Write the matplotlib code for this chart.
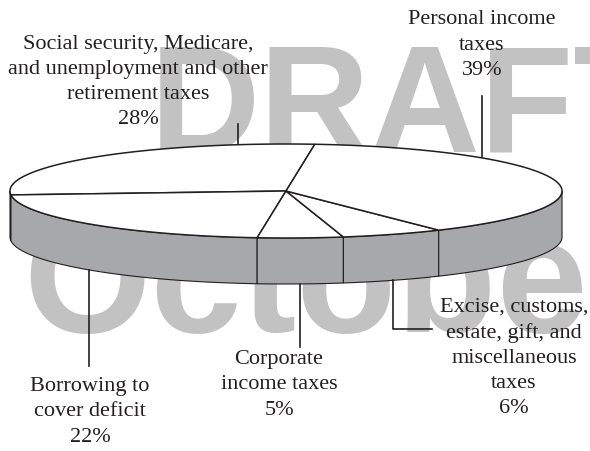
import numpy as np
import matplotlib
matplotlib.use("Agg")
import matplotlib.pyplot as plt
from matplotlib.patches import Polygon

# ---- data (counter-clockwise from the back of the pie) ----
categories = ["Social security, Medicare,\nand unemployment and other\nretirement taxes",
              "Borrowing to\ncover deficit",
              "Corporate\nincome taxes",
              "Excise, customs,\nestate, gift, and\nmiscellaneous\ntaxes",
              "Personal income\ntaxes"]
shares = [28, 22, 5, 6, 39]

# ---- layout ----
W, H = 590, 452
cx, cy, rx, ry, depth = 286.0, 192.0, 276.0, 47.0, 46.0
start_angle = 84.0
LINE = "#231f20"
SIDE = "#a7a8ab"
WM = "#c2c2c2"

fig = plt.figure(figsize=(W / 100, H / 100), dpi=100)
ax = fig.add_axes([0, 0, 1, 1])
ax.set_xlim(0, W)
ax.set_ylim(H, 0)
ax.axis("off")

# watermark
ax.text(150, 152, "DRAFT", fontfamily="Liberation Sans", fontweight="bold",
        fontsize=110, color=WM, ha="left", va="baseline", zorder=0)
ax.text(23, 332, "October", fontfamily="Liberation Sans", fontweight="bold",
        fontsize=118, color=WM, ha="left", va="baseline", zorder=0)


def pt(t_deg, drop=0.0):
    t = np.radians(t_deg)
    return cx + rx * np.cos(t), cy - ry * np.sin(t) + drop


spans = np.array(shares, dtype=float) / sum(shares) * 360.0
bounds = start_angle + np.concatenate([[0], np.cumsum(spans)])

# side walls (front half only)
for a0, a1 in zip(bounds[:-1], bounds[1:]):
    for off in (0.0, 360.0):
        lo, hi = max(a0, 180 + off), min(a1, 360 + off)
        if hi <= lo:
            continue
        ts = np.linspace(lo, hi, 120)
        top = np.array([pt(t) for t in ts])
        bot = np.array([pt(t, depth) for t in ts])[::-1]
        ax.add_patch(Polygon(np.vstack([top, bot]), closed=True, facecolor=SIDE,
                             edgecolor=LINE, lw=0.8, zorder=2))

# top face wedges
for a0, a1 in zip(bounds[:-1], bounds[1:]):
    ts = np.linspace(a0, a1, 300)
    arc = np.array([pt(t) for t in ts])
    poly = np.vstack([[cx, cy], arc])
    ax.add_patch(Polygon(poly, closed=True, facecolor="white", edgecolor=LINE,
                         lw=1.1, joinstyle="miter", zorder=3))

mids = (bounds[:-1] + bounds[1:]) / 2.0

# leader lines
lw_lead = 1.2
# social security (back, top edge)
x_ss = 238.0
y_ss = cy - ry * np.sqrt(1 - ((x_ss - cx) / rx) ** 2)
ax.plot([x_ss, x_ss], [125, y_ss], color=LINE, lw=lw_lead, zorder=2.5)
# personal income (back, top edge)
x_pi = 482.0
y_pi = cy - ry * np.sqrt(1 - ((x_pi - cx) / rx) ** 2)
ax.plot([x_pi, x_pi], [97, y_pi], color=LINE, lw=lw_lead, zorder=2.5)
# borrowing
bx, by = pt(mids[1], depth)
ax.plot([bx, bx], [by, 367], color=LINE, lw=lw_lead, zorder=4)
# corporate
kx, ky = pt(mids[2], depth)
ax.plot([kx, kx], [ky, 348], color=LINE, lw=lw_lead, zorder=4)
# excise
ex, ey = pt(mids[3], depth)
ax.plot([ex, ex, 432], [ey, 330, 330], color=LINE, lw=lw_lead, zorder=4)

# labels
label_pos = [(138, 82), (90, 412), (279, 385), (514, 358), (482, 45)]
for cat, sh, (lx, ly) in zip(categories, shares, label_pos):
    ax.text(lx, ly, f"{cat}\n{sh}%", fontfamily="Liberation Serif", fontsize=16,
            color=LINE, ha="center", va="center", multialignment="center",
            linespacing=1.43, zorder=5)

fig.savefig("out.png", dpi=100)
